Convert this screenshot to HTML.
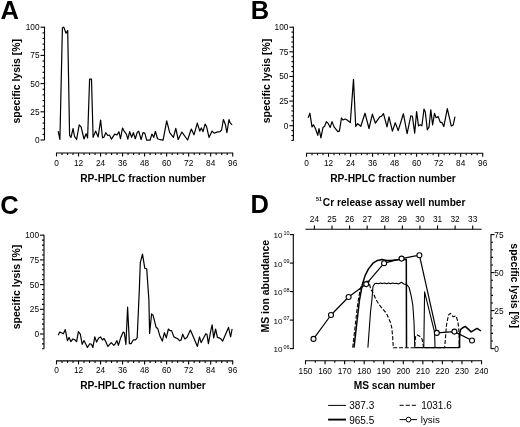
<!DOCTYPE html>
<html><head><meta charset="utf-8"><style>
html,body{margin:0;padding:0;background:#fff;}
svg{display:block;filter:blur(0.25px);}
text{font-family:"Liberation Sans", sans-serif;fill:#000;}
line{stroke:#000;}
</style></head><body>
<svg width="520" height="427" viewBox="0 0 520 427">
<rect width="520" height="427" fill="#fff"/>
<text x="0.60" y="19.00" font-size="25.5" text-anchor="start" font-weight="bold" >A</text>
<text x="250.80" y="19.20" font-size="25.5" text-anchor="start" font-weight="bold" >B</text>
<text x="0.20" y="213.80" font-size="25.5" text-anchor="start" font-weight="bold" >C</text>
<text x="250.50" y="212.80" font-size="25.5" text-anchor="start" font-weight="bold" >D</text>
<line x1="44.50" y1="26.70" x2="44.50" y2="140.00" stroke-width="1.1" />
<line x1="40.50" y1="140.00" x2="44.50" y2="140.00" stroke-width="1.1" />
<text x="39.50" y="143.00" font-size="8.3" text-anchor="end" font-weight="normal" >0</text>
<line x1="42.50" y1="134.36" x2="44.50" y2="134.36" stroke-width="1.1" />
<line x1="42.50" y1="128.72" x2="44.50" y2="128.72" stroke-width="1.1" />
<line x1="42.50" y1="123.08" x2="44.50" y2="123.08" stroke-width="1.1" />
<line x1="42.50" y1="117.44" x2="44.50" y2="117.44" stroke-width="1.1" />
<line x1="40.50" y1="111.80" x2="44.50" y2="111.80" stroke-width="1.1" />
<text x="39.50" y="114.80" font-size="8.3" text-anchor="end" font-weight="normal" >25</text>
<line x1="42.50" y1="106.16" x2="44.50" y2="106.16" stroke-width="1.1" />
<line x1="42.50" y1="100.52" x2="44.50" y2="100.52" stroke-width="1.1" />
<line x1="42.50" y1="94.88" x2="44.50" y2="94.88" stroke-width="1.1" />
<line x1="42.50" y1="89.24" x2="44.50" y2="89.24" stroke-width="1.1" />
<line x1="40.50" y1="83.60" x2="44.50" y2="83.60" stroke-width="1.1" />
<text x="39.50" y="86.60" font-size="8.3" text-anchor="end" font-weight="normal" >50</text>
<line x1="42.50" y1="77.96" x2="44.50" y2="77.96" stroke-width="1.1" />
<line x1="42.50" y1="72.32" x2="44.50" y2="72.32" stroke-width="1.1" />
<line x1="42.50" y1="66.68" x2="44.50" y2="66.68" stroke-width="1.1" />
<line x1="42.50" y1="61.04" x2="44.50" y2="61.04" stroke-width="1.1" />
<line x1="40.50" y1="55.40" x2="44.50" y2="55.40" stroke-width="1.1" />
<text x="39.50" y="58.40" font-size="8.3" text-anchor="end" font-weight="normal" >75</text>
<line x1="42.50" y1="49.76" x2="44.50" y2="49.76" stroke-width="1.1" />
<line x1="42.50" y1="44.12" x2="44.50" y2="44.12" stroke-width="1.1" />
<line x1="42.50" y1="38.48" x2="44.50" y2="38.48" stroke-width="1.1" />
<line x1="42.50" y1="32.84" x2="44.50" y2="32.84" stroke-width="1.1" />
<line x1="40.50" y1="27.20" x2="44.50" y2="27.20" stroke-width="1.1" />
<text x="39.50" y="30.20" font-size="8.3" text-anchor="end" font-weight="normal" >100</text>
<line x1="56.00" y1="153.00" x2="233.20" y2="153.00" stroke-width="1.1" />
<line x1="56.50" y1="153.00" x2="56.50" y2="156.50" stroke-width="1.1" />
<text x="56.50" y="165.50" font-size="8.3" text-anchor="middle" font-weight="normal" >0</text>
<line x1="62.01" y1="153.00" x2="62.01" y2="155.00" stroke-width="1.1" />
<line x1="67.51" y1="153.00" x2="67.51" y2="155.00" stroke-width="1.1" />
<line x1="73.02" y1="153.00" x2="73.02" y2="155.00" stroke-width="1.1" />
<line x1="78.52" y1="153.00" x2="78.52" y2="156.50" stroke-width="1.1" />
<text x="78.52" y="165.50" font-size="8.3" text-anchor="middle" font-weight="normal" >12</text>
<line x1="84.03" y1="153.00" x2="84.03" y2="155.00" stroke-width="1.1" />
<line x1="89.54" y1="153.00" x2="89.54" y2="155.00" stroke-width="1.1" />
<line x1="95.04" y1="153.00" x2="95.04" y2="155.00" stroke-width="1.1" />
<line x1="100.55" y1="153.00" x2="100.55" y2="156.50" stroke-width="1.1" />
<text x="100.55" y="165.50" font-size="8.3" text-anchor="middle" font-weight="normal" >24</text>
<line x1="106.06" y1="153.00" x2="106.06" y2="155.00" stroke-width="1.1" />
<line x1="111.56" y1="153.00" x2="111.56" y2="155.00" stroke-width="1.1" />
<line x1="117.07" y1="153.00" x2="117.07" y2="155.00" stroke-width="1.1" />
<line x1="122.57" y1="153.00" x2="122.57" y2="156.50" stroke-width="1.1" />
<text x="122.57" y="165.50" font-size="8.3" text-anchor="middle" font-weight="normal" >36</text>
<line x1="128.08" y1="153.00" x2="128.08" y2="155.00" stroke-width="1.1" />
<line x1="133.59" y1="153.00" x2="133.59" y2="155.00" stroke-width="1.1" />
<line x1="139.09" y1="153.00" x2="139.09" y2="155.00" stroke-width="1.1" />
<line x1="144.60" y1="153.00" x2="144.60" y2="156.50" stroke-width="1.1" />
<text x="144.60" y="165.50" font-size="8.3" text-anchor="middle" font-weight="normal" >48</text>
<line x1="150.11" y1="153.00" x2="150.11" y2="155.00" stroke-width="1.1" />
<line x1="155.61" y1="153.00" x2="155.61" y2="155.00" stroke-width="1.1" />
<line x1="161.12" y1="153.00" x2="161.12" y2="155.00" stroke-width="1.1" />
<line x1="166.62" y1="153.00" x2="166.62" y2="156.50" stroke-width="1.1" />
<text x="166.62" y="165.50" font-size="8.3" text-anchor="middle" font-weight="normal" >60</text>
<line x1="172.13" y1="153.00" x2="172.13" y2="155.00" stroke-width="1.1" />
<line x1="177.64" y1="153.00" x2="177.64" y2="155.00" stroke-width="1.1" />
<line x1="183.14" y1="153.00" x2="183.14" y2="155.00" stroke-width="1.1" />
<line x1="188.65" y1="153.00" x2="188.65" y2="156.50" stroke-width="1.1" />
<text x="188.65" y="165.50" font-size="8.3" text-anchor="middle" font-weight="normal" >72</text>
<line x1="194.16" y1="153.00" x2="194.16" y2="155.00" stroke-width="1.1" />
<line x1="199.66" y1="153.00" x2="199.66" y2="155.00" stroke-width="1.1" />
<line x1="205.17" y1="153.00" x2="205.17" y2="155.00" stroke-width="1.1" />
<line x1="210.67" y1="153.00" x2="210.67" y2="156.50" stroke-width="1.1" />
<text x="210.67" y="165.50" font-size="8.3" text-anchor="middle" font-weight="normal" >84</text>
<line x1="216.18" y1="153.00" x2="216.18" y2="155.00" stroke-width="1.1" />
<line x1="221.69" y1="153.00" x2="221.69" y2="155.00" stroke-width="1.1" />
<line x1="227.19" y1="153.00" x2="227.19" y2="155.00" stroke-width="1.1" />
<line x1="232.70" y1="153.00" x2="232.70" y2="156.50" stroke-width="1.1" />
<text x="232.70" y="165.50" font-size="8.3" text-anchor="middle" font-weight="normal" >96</text>
<text x="143.00" y="181.50" font-size="10.2" text-anchor="middle" font-weight="bold" >RP-HPLC fraction number</text>
<text x="0" y="0" font-size="10.5" font-weight="bold" text-anchor="middle" transform="translate(20.0,81.3) rotate(-90)">specific lysis [%]</text>
<line x1="293.40" y1="26.70" x2="293.40" y2="140.47" stroke-width="1.1" />
<line x1="291.40" y1="140.47" x2="293.40" y2="140.47" stroke-width="1.1" />
<line x1="291.40" y1="135.55" x2="293.40" y2="135.55" stroke-width="1.1" />
<line x1="291.40" y1="130.62" x2="293.40" y2="130.62" stroke-width="1.1" />
<line x1="289.40" y1="125.70" x2="293.40" y2="125.70" stroke-width="1.1" />
<text x="288.40" y="128.70" font-size="8.3" text-anchor="end" font-weight="normal" >0</text>
<line x1="291.40" y1="120.78" x2="293.40" y2="120.78" stroke-width="1.1" />
<line x1="291.40" y1="115.85" x2="293.40" y2="115.85" stroke-width="1.1" />
<line x1="291.40" y1="110.92" x2="293.40" y2="110.92" stroke-width="1.1" />
<line x1="291.40" y1="106.00" x2="293.40" y2="106.00" stroke-width="1.1" />
<line x1="289.40" y1="101.08" x2="293.40" y2="101.08" stroke-width="1.1" />
<text x="288.40" y="104.08" font-size="8.3" text-anchor="end" font-weight="normal" >25</text>
<line x1="291.40" y1="96.15" x2="293.40" y2="96.15" stroke-width="1.1" />
<line x1="291.40" y1="91.22" x2="293.40" y2="91.22" stroke-width="1.1" />
<line x1="291.40" y1="86.30" x2="293.40" y2="86.30" stroke-width="1.1" />
<line x1="291.40" y1="81.38" x2="293.40" y2="81.38" stroke-width="1.1" />
<line x1="289.40" y1="76.45" x2="293.40" y2="76.45" stroke-width="1.1" />
<text x="288.40" y="79.45" font-size="8.3" text-anchor="end" font-weight="normal" >50</text>
<line x1="291.40" y1="71.53" x2="293.40" y2="71.53" stroke-width="1.1" />
<line x1="291.40" y1="66.60" x2="293.40" y2="66.60" stroke-width="1.1" />
<line x1="291.40" y1="61.67" x2="293.40" y2="61.67" stroke-width="1.1" />
<line x1="291.40" y1="56.75" x2="293.40" y2="56.75" stroke-width="1.1" />
<line x1="289.40" y1="51.83" x2="293.40" y2="51.83" stroke-width="1.1" />
<text x="288.40" y="54.83" font-size="8.3" text-anchor="end" font-weight="normal" >75</text>
<line x1="291.40" y1="46.90" x2="293.40" y2="46.90" stroke-width="1.1" />
<line x1="291.40" y1="41.98" x2="293.40" y2="41.98" stroke-width="1.1" />
<line x1="291.40" y1="37.05" x2="293.40" y2="37.05" stroke-width="1.1" />
<line x1="291.40" y1="32.12" x2="293.40" y2="32.12" stroke-width="1.1" />
<line x1="289.40" y1="27.20" x2="293.40" y2="27.20" stroke-width="1.1" />
<text x="288.40" y="30.20" font-size="8.3" text-anchor="end" font-weight="normal" >100</text>
<line x1="306.00" y1="153.30" x2="483.20" y2="153.30" stroke-width="1.1" />
<line x1="306.50" y1="153.30" x2="306.50" y2="156.80" stroke-width="1.1" />
<text x="306.50" y="165.80" font-size="8.3" text-anchor="middle" font-weight="normal" >0</text>
<line x1="312.01" y1="153.30" x2="312.01" y2="155.30" stroke-width="1.1" />
<line x1="317.51" y1="153.30" x2="317.51" y2="155.30" stroke-width="1.1" />
<line x1="323.02" y1="153.30" x2="323.02" y2="155.30" stroke-width="1.1" />
<line x1="328.52" y1="153.30" x2="328.52" y2="156.80" stroke-width="1.1" />
<text x="328.52" y="165.80" font-size="8.3" text-anchor="middle" font-weight="normal" >12</text>
<line x1="334.03" y1="153.30" x2="334.03" y2="155.30" stroke-width="1.1" />
<line x1="339.54" y1="153.30" x2="339.54" y2="155.30" stroke-width="1.1" />
<line x1="345.04" y1="153.30" x2="345.04" y2="155.30" stroke-width="1.1" />
<line x1="350.55" y1="153.30" x2="350.55" y2="156.80" stroke-width="1.1" />
<text x="350.55" y="165.80" font-size="8.3" text-anchor="middle" font-weight="normal" >24</text>
<line x1="356.06" y1="153.30" x2="356.06" y2="155.30" stroke-width="1.1" />
<line x1="361.56" y1="153.30" x2="361.56" y2="155.30" stroke-width="1.1" />
<line x1="367.07" y1="153.30" x2="367.07" y2="155.30" stroke-width="1.1" />
<line x1="372.57" y1="153.30" x2="372.57" y2="156.80" stroke-width="1.1" />
<text x="372.57" y="165.80" font-size="8.3" text-anchor="middle" font-weight="normal" >36</text>
<line x1="378.08" y1="153.30" x2="378.08" y2="155.30" stroke-width="1.1" />
<line x1="383.59" y1="153.30" x2="383.59" y2="155.30" stroke-width="1.1" />
<line x1="389.09" y1="153.30" x2="389.09" y2="155.30" stroke-width="1.1" />
<line x1="394.60" y1="153.30" x2="394.60" y2="156.80" stroke-width="1.1" />
<text x="394.60" y="165.80" font-size="8.3" text-anchor="middle" font-weight="normal" >48</text>
<line x1="400.11" y1="153.30" x2="400.11" y2="155.30" stroke-width="1.1" />
<line x1="405.61" y1="153.30" x2="405.61" y2="155.30" stroke-width="1.1" />
<line x1="411.12" y1="153.30" x2="411.12" y2="155.30" stroke-width="1.1" />
<line x1="416.62" y1="153.30" x2="416.62" y2="156.80" stroke-width="1.1" />
<text x="416.62" y="165.80" font-size="8.3" text-anchor="middle" font-weight="normal" >60</text>
<line x1="422.13" y1="153.30" x2="422.13" y2="155.30" stroke-width="1.1" />
<line x1="427.64" y1="153.30" x2="427.64" y2="155.30" stroke-width="1.1" />
<line x1="433.14" y1="153.30" x2="433.14" y2="155.30" stroke-width="1.1" />
<line x1="438.65" y1="153.30" x2="438.65" y2="156.80" stroke-width="1.1" />
<text x="438.65" y="165.80" font-size="8.3" text-anchor="middle" font-weight="normal" >72</text>
<line x1="444.15" y1="153.30" x2="444.15" y2="155.30" stroke-width="1.1" />
<line x1="449.66" y1="153.30" x2="449.66" y2="155.30" stroke-width="1.1" />
<line x1="455.17" y1="153.30" x2="455.17" y2="155.30" stroke-width="1.1" />
<line x1="460.67" y1="153.30" x2="460.67" y2="156.80" stroke-width="1.1" />
<text x="460.67" y="165.80" font-size="8.3" text-anchor="middle" font-weight="normal" >84</text>
<line x1="466.18" y1="153.30" x2="466.18" y2="155.30" stroke-width="1.1" />
<line x1="471.69" y1="153.30" x2="471.69" y2="155.30" stroke-width="1.1" />
<line x1="477.19" y1="153.30" x2="477.19" y2="155.30" stroke-width="1.1" />
<line x1="482.70" y1="153.30" x2="482.70" y2="156.80" stroke-width="1.1" />
<text x="482.70" y="165.80" font-size="8.3" text-anchor="middle" font-weight="normal" >96</text>
<text x="393.00" y="181.80" font-size="10.2" text-anchor="middle" font-weight="bold" >RP-HPLC fraction number</text>
<text x="0" y="0" font-size="10.5" font-weight="bold" text-anchor="middle" transform="translate(269.6,81.0) rotate(-90)">specific lysis [%]</text>
<line x1="44.00" y1="234.70" x2="44.00" y2="348.82" stroke-width="1.1" />
<line x1="42.00" y1="348.82" x2="44.00" y2="348.82" stroke-width="1.1" />
<line x1="42.00" y1="343.88" x2="44.00" y2="343.88" stroke-width="1.1" />
<line x1="42.00" y1="338.94" x2="44.00" y2="338.94" stroke-width="1.1" />
<line x1="40.00" y1="334.00" x2="44.00" y2="334.00" stroke-width="1.1" />
<text x="39.00" y="337.00" font-size="8.3" text-anchor="end" font-weight="normal" >0</text>
<line x1="42.00" y1="329.06" x2="44.00" y2="329.06" stroke-width="1.1" />
<line x1="42.00" y1="324.12" x2="44.00" y2="324.12" stroke-width="1.1" />
<line x1="42.00" y1="319.18" x2="44.00" y2="319.18" stroke-width="1.1" />
<line x1="42.00" y1="314.24" x2="44.00" y2="314.24" stroke-width="1.1" />
<line x1="40.00" y1="309.30" x2="44.00" y2="309.30" stroke-width="1.1" />
<text x="39.00" y="312.30" font-size="8.3" text-anchor="end" font-weight="normal" >25</text>
<line x1="42.00" y1="304.36" x2="44.00" y2="304.36" stroke-width="1.1" />
<line x1="42.00" y1="299.42" x2="44.00" y2="299.42" stroke-width="1.1" />
<line x1="42.00" y1="294.48" x2="44.00" y2="294.48" stroke-width="1.1" />
<line x1="42.00" y1="289.54" x2="44.00" y2="289.54" stroke-width="1.1" />
<line x1="40.00" y1="284.60" x2="44.00" y2="284.60" stroke-width="1.1" />
<text x="39.00" y="287.60" font-size="8.3" text-anchor="end" font-weight="normal" >50</text>
<line x1="42.00" y1="279.66" x2="44.00" y2="279.66" stroke-width="1.1" />
<line x1="42.00" y1="274.72" x2="44.00" y2="274.72" stroke-width="1.1" />
<line x1="42.00" y1="269.78" x2="44.00" y2="269.78" stroke-width="1.1" />
<line x1="42.00" y1="264.84" x2="44.00" y2="264.84" stroke-width="1.1" />
<line x1="40.00" y1="259.90" x2="44.00" y2="259.90" stroke-width="1.1" />
<text x="39.00" y="262.90" font-size="8.3" text-anchor="end" font-weight="normal" >75</text>
<line x1="42.00" y1="254.96" x2="44.00" y2="254.96" stroke-width="1.1" />
<line x1="42.00" y1="250.02" x2="44.00" y2="250.02" stroke-width="1.1" />
<line x1="42.00" y1="245.08" x2="44.00" y2="245.08" stroke-width="1.1" />
<line x1="42.00" y1="240.14" x2="44.00" y2="240.14" stroke-width="1.1" />
<line x1="40.00" y1="235.20" x2="44.00" y2="235.20" stroke-width="1.1" />
<text x="39.00" y="238.20" font-size="8.3" text-anchor="end" font-weight="normal" >100</text>
<line x1="56.00" y1="360.90" x2="233.20" y2="360.90" stroke-width="1.1" />
<line x1="56.50" y1="360.90" x2="56.50" y2="364.40" stroke-width="1.1" />
<text x="56.50" y="373.40" font-size="8.3" text-anchor="middle" font-weight="normal" >0</text>
<line x1="62.01" y1="360.90" x2="62.01" y2="362.90" stroke-width="1.1" />
<line x1="67.51" y1="360.90" x2="67.51" y2="362.90" stroke-width="1.1" />
<line x1="73.02" y1="360.90" x2="73.02" y2="362.90" stroke-width="1.1" />
<line x1="78.52" y1="360.90" x2="78.52" y2="364.40" stroke-width="1.1" />
<text x="78.52" y="373.40" font-size="8.3" text-anchor="middle" font-weight="normal" >12</text>
<line x1="84.03" y1="360.90" x2="84.03" y2="362.90" stroke-width="1.1" />
<line x1="89.54" y1="360.90" x2="89.54" y2="362.90" stroke-width="1.1" />
<line x1="95.04" y1="360.90" x2="95.04" y2="362.90" stroke-width="1.1" />
<line x1="100.55" y1="360.90" x2="100.55" y2="364.40" stroke-width="1.1" />
<text x="100.55" y="373.40" font-size="8.3" text-anchor="middle" font-weight="normal" >24</text>
<line x1="106.06" y1="360.90" x2="106.06" y2="362.90" stroke-width="1.1" />
<line x1="111.56" y1="360.90" x2="111.56" y2="362.90" stroke-width="1.1" />
<line x1="117.07" y1="360.90" x2="117.07" y2="362.90" stroke-width="1.1" />
<line x1="122.57" y1="360.90" x2="122.57" y2="364.40" stroke-width="1.1" />
<text x="122.57" y="373.40" font-size="8.3" text-anchor="middle" font-weight="normal" >36</text>
<line x1="128.08" y1="360.90" x2="128.08" y2="362.90" stroke-width="1.1" />
<line x1="133.59" y1="360.90" x2="133.59" y2="362.90" stroke-width="1.1" />
<line x1="139.09" y1="360.90" x2="139.09" y2="362.90" stroke-width="1.1" />
<line x1="144.60" y1="360.90" x2="144.60" y2="364.40" stroke-width="1.1" />
<text x="144.60" y="373.40" font-size="8.3" text-anchor="middle" font-weight="normal" >48</text>
<line x1="150.11" y1="360.90" x2="150.11" y2="362.90" stroke-width="1.1" />
<line x1="155.61" y1="360.90" x2="155.61" y2="362.90" stroke-width="1.1" />
<line x1="161.12" y1="360.90" x2="161.12" y2="362.90" stroke-width="1.1" />
<line x1="166.62" y1="360.90" x2="166.62" y2="364.40" stroke-width="1.1" />
<text x="166.62" y="373.40" font-size="8.3" text-anchor="middle" font-weight="normal" >60</text>
<line x1="172.13" y1="360.90" x2="172.13" y2="362.90" stroke-width="1.1" />
<line x1="177.64" y1="360.90" x2="177.64" y2="362.90" stroke-width="1.1" />
<line x1="183.14" y1="360.90" x2="183.14" y2="362.90" stroke-width="1.1" />
<line x1="188.65" y1="360.90" x2="188.65" y2="364.40" stroke-width="1.1" />
<text x="188.65" y="373.40" font-size="8.3" text-anchor="middle" font-weight="normal" >72</text>
<line x1="194.16" y1="360.90" x2="194.16" y2="362.90" stroke-width="1.1" />
<line x1="199.66" y1="360.90" x2="199.66" y2="362.90" stroke-width="1.1" />
<line x1="205.17" y1="360.90" x2="205.17" y2="362.90" stroke-width="1.1" />
<line x1="210.67" y1="360.90" x2="210.67" y2="364.40" stroke-width="1.1" />
<text x="210.67" y="373.40" font-size="8.3" text-anchor="middle" font-weight="normal" >84</text>
<line x1="216.18" y1="360.90" x2="216.18" y2="362.90" stroke-width="1.1" />
<line x1="221.69" y1="360.90" x2="221.69" y2="362.90" stroke-width="1.1" />
<line x1="227.19" y1="360.90" x2="227.19" y2="362.90" stroke-width="1.1" />
<line x1="232.70" y1="360.90" x2="232.70" y2="364.40" stroke-width="1.1" />
<text x="232.70" y="373.40" font-size="8.3" text-anchor="middle" font-weight="normal" >96</text>
<text x="143.00" y="389.40" font-size="10.2" text-anchor="middle" font-weight="bold" >RP-HPLC fraction number</text>
<text x="0" y="0" font-size="10.5" font-weight="bold" text-anchor="middle" transform="translate(20.0,287.0) rotate(-90)">specific lysis [%]</text>
<polyline points="58.20,131.10 59.90,139.50 62.40,28.00 63.80,27.10 66.00,33.20 67.70,30.60 69.60,135.30 71.00,137.40 73.10,128.50 74.50,136.40 76.60,139.50 79.20,124.80 81.10,126.90 84.00,139.00 86.10,133.70 87.60,137.90 89.60,79.20 91.50,79.20 93.10,137.40 95.60,131.10 98.20,136.90 100.60,120.00 102.50,137.80 103.90,137.30 105.80,132.70 107.70,135.50 109.50,135.00 111.40,139.20 114.70,134.10 117.00,135.00 118.90,131.70 120.50,138.75 122.50,128.00 124.50,131.70 126.40,134.10 127.80,139.20 129.70,131.70 131.60,137.30 133.40,132.70 135.30,138.75 137.30,132.20 138.75,131.25 141.10,139.70 143.00,132.70 144.80,133.10 146.70,140.20 150.00,140.20 151.90,134.10 153.75,137.30 155.40,131.25 157.50,138.75 160.30,139.70 163.10,140.20 166.70,120.90 169.70,132.70 173.40,137.30 175.80,128.40 178.20,139.50 181.90,132.10 187.60,140.00 191.30,129.00 194.00,134.80 197.30,123.20 199.80,131.10 201.30,127.90 203.00,131.60 205.10,124.20 206.50,126.30 209.00,137.40 212.10,131.10 214.20,133.20 216.90,132.10 220.00,131.60 221.60,130.00 223.40,119.50 225.30,124.20 226.90,132.70 229.00,119.50 230.00,122.70 232.10,124.80" fill="none" stroke="#000" stroke-width="1.2" stroke-linejoin="round" />
<polyline points="308.10,117.90 309.90,113.20 312.00,126.90 313.50,124.80 315.60,129.00 317.80,135.30 319.00,128.50 320.90,137.90 323.00,127.40 324.60,126.30 326.40,121.60 328.30,123.70 330.20,127.40 332.00,121.60 334.10,126.90 337.80,131.60 339.40,131.10 341.50,117.90 343.00,120.00 345.20,119.00 347.10,120.00 350.30,122.60 353.50,79.30 355.70,126.30 357.60,123.70 360.80,126.30 365.00,113.20 369.00,128.50 372.40,114.20 375.40,123.20 379.80,116.90 381.40,116.30 383.50,113.70 387.00,126.90 389.00,116.90 392.40,131.10 395.30,122.70 398.20,130.60 403.40,113.70 407.10,133.70 410.80,115.80 412.40,116.30 414.70,133.20 416.60,111.60 418.50,125.80 420.30,124.80 421.90,125.80 424.00,109.00 425.30,112.00 427.30,129.80 429.00,127.10 430.80,109.80 432.60,125.00 434.50,113.40 436.10,117.70 438.20,116.60 440.30,122.40 441.90,122.40 443.80,126.60 447.30,108.70 451.30,126.10 453.20,125.00 455.00,116.60" fill="none" stroke="#000" stroke-width="1.2" stroke-linejoin="round" />
<polyline points="58.20,335.30 59.70,332.10 61.50,332.70 63.40,333.70 65.30,329.50 67.40,340.60 69.20,337.40 70.80,341.60 72.90,339.00 74.50,339.50 76.60,341.60 78.40,331.60 80.30,334.20 82.20,344.30 84.00,340.60 87.50,347.40 89.80,343.70 91.40,344.30 92.90,347.40 94.80,336.90 96.60,342.10 98.70,337.90 100.50,336.90 102.40,340.00 104.00,338.50 105.50,341.10 107.90,346.40 111.30,342.70 113.80,345.30 115.00,344.30 116.90,340.60 118.40,345.30 120.80,337.40 123.20,332.10 124.30,332.70 125.90,344.30 127.60,307.20 129.40,343.60 131.10,343.60 133.40,339.80 135.60,339.80 137.20,337.50 139.30,290.00 140.30,262.70 142.50,254.20 144.80,268.30 146.70,268.75 148.90,300.00 149.60,333.40 151.60,313.90 153.10,315.40 156.20,327.60 157.70,328.30 160.00,336.30 162.30,341.10 164.40,332.70 166.30,337.90 168.40,329.00 170.00,330.60 171.60,330.60 173.90,336.90 175.80,337.90 177.40,338.50 179.50,340.60 181.10,340.00 182.70,334.20 184.80,339.00 186.90,337.40 190.40,330.00 197.40,346.40 199.50,336.90 201.10,342.70 205.80,333.70 206.90,334.20 208.40,343.70 210.50,332.10 212.10,324.80 213.70,337.90 215.60,329.00 217.40,337.40 219.00,337.90 220.50,338.50 222.70,341.10 228.50,327.40 230.60,336.90 232.10,329.00" fill="none" stroke="#000" stroke-width="1.2" stroke-linejoin="round" />
<line x1="293.30" y1="234.10" x2="293.30" y2="349.10" stroke-width="1.1" />
<line x1="289.80" y1="234.60" x2="293.30" y2="234.60" stroke-width="1.1" />
<text x="282.50" y="238.00" font-size="8.1" text-anchor="end" font-weight="normal" >10</text>
<text x="283.40" y="234.90" font-size="5.4" text-anchor="start" font-weight="normal" >10</text>
<line x1="289.80" y1="263.10" x2="293.30" y2="263.10" stroke-width="1.1" />
<text x="282.50" y="266.50" font-size="8.1" text-anchor="end" font-weight="normal" >10</text>
<text x="283.40" y="263.40" font-size="5.4" text-anchor="start" font-weight="normal" >09</text>
<line x1="289.80" y1="291.60" x2="293.30" y2="291.60" stroke-width="1.1" />
<text x="282.50" y="295.00" font-size="8.1" text-anchor="end" font-weight="normal" >10</text>
<text x="283.40" y="291.90" font-size="5.4" text-anchor="start" font-weight="normal" >08</text>
<line x1="289.80" y1="320.10" x2="293.30" y2="320.10" stroke-width="1.1" />
<text x="282.50" y="323.50" font-size="8.1" text-anchor="end" font-weight="normal" >10</text>
<text x="283.40" y="320.40" font-size="5.4" text-anchor="start" font-weight="normal" >07</text>
<line x1="289.80" y1="348.60" x2="293.30" y2="348.60" stroke-width="1.1" />
<text x="282.50" y="352.00" font-size="8.1" text-anchor="end" font-weight="normal" >10</text>
<text x="283.40" y="348.90" font-size="5.4" text-anchor="start" font-weight="normal" >06</text>
<line x1="491.00" y1="234.10" x2="491.00" y2="349.10" stroke-width="1.1" />
<line x1="491.00" y1="348.60" x2="494.50" y2="348.60" stroke-width="1.1" />
<text x="494.30" y="351.60" font-size="8.3" text-anchor="start" font-weight="normal" >0</text>
<line x1="491.00" y1="341.00" x2="493.00" y2="341.00" stroke-width="1.1" />
<line x1="491.00" y1="333.40" x2="493.00" y2="333.40" stroke-width="1.1" />
<line x1="491.00" y1="325.80" x2="493.00" y2="325.80" stroke-width="1.1" />
<line x1="491.00" y1="318.20" x2="493.00" y2="318.20" stroke-width="1.1" />
<line x1="491.00" y1="310.60" x2="494.50" y2="310.60" stroke-width="1.1" />
<text x="494.30" y="313.60" font-size="8.3" text-anchor="start" font-weight="normal" >25</text>
<line x1="491.00" y1="303.00" x2="493.00" y2="303.00" stroke-width="1.1" />
<line x1="491.00" y1="295.40" x2="493.00" y2="295.40" stroke-width="1.1" />
<line x1="491.00" y1="287.80" x2="493.00" y2="287.80" stroke-width="1.1" />
<line x1="491.00" y1="280.20" x2="493.00" y2="280.20" stroke-width="1.1" />
<line x1="491.00" y1="272.60" x2="494.50" y2="272.60" stroke-width="1.1" />
<text x="494.30" y="275.60" font-size="8.3" text-anchor="start" font-weight="normal" >50</text>
<line x1="491.00" y1="265.00" x2="493.00" y2="265.00" stroke-width="1.1" />
<line x1="491.00" y1="257.40" x2="493.00" y2="257.40" stroke-width="1.1" />
<line x1="491.00" y1="249.80" x2="493.00" y2="249.80" stroke-width="1.1" />
<line x1="491.00" y1="242.20" x2="493.00" y2="242.20" stroke-width="1.1" />
<line x1="491.00" y1="234.60" x2="494.50" y2="234.60" stroke-width="1.1" />
<text x="494.30" y="237.60" font-size="8.3" text-anchor="start" font-weight="normal" >75</text>
<text x="0" y="0" font-size="10.5" font-weight="bold" text-anchor="middle" transform="translate(510.5,285.6) rotate(90)">specific lysis [%]</text>
<text x="0" y="0" font-size="10.5" font-weight="bold" text-anchor="middle" transform="translate(269.4,286.2) rotate(-90)">MS ion abundance</text>
<line x1="305.00" y1="360.80" x2="482.04" y2="360.80" stroke-width="1.1" />
<line x1="305.50" y1="360.80" x2="305.50" y2="364.30" stroke-width="1.1" />
<text x="305.50" y="373.60" font-size="8.3" text-anchor="middle" font-weight="normal" >150</text>
<line x1="315.28" y1="360.80" x2="315.28" y2="362.80" stroke-width="1.1" />
<line x1="325.06" y1="360.80" x2="325.06" y2="364.30" stroke-width="1.1" />
<text x="325.06" y="373.60" font-size="8.3" text-anchor="middle" font-weight="normal" >160</text>
<line x1="334.84" y1="360.80" x2="334.84" y2="362.80" stroke-width="1.1" />
<line x1="344.62" y1="360.80" x2="344.62" y2="364.30" stroke-width="1.1" />
<text x="344.62" y="373.60" font-size="8.3" text-anchor="middle" font-weight="normal" >170</text>
<line x1="354.40" y1="360.80" x2="354.40" y2="362.80" stroke-width="1.1" />
<line x1="364.18" y1="360.80" x2="364.18" y2="364.30" stroke-width="1.1" />
<text x="364.18" y="373.60" font-size="8.3" text-anchor="middle" font-weight="normal" >180</text>
<line x1="373.96" y1="360.80" x2="373.96" y2="362.80" stroke-width="1.1" />
<line x1="383.74" y1="360.80" x2="383.74" y2="364.30" stroke-width="1.1" />
<text x="383.74" y="373.60" font-size="8.3" text-anchor="middle" font-weight="normal" >190</text>
<line x1="393.52" y1="360.80" x2="393.52" y2="362.80" stroke-width="1.1" />
<line x1="403.30" y1="360.80" x2="403.30" y2="364.30" stroke-width="1.1" />
<text x="403.30" y="373.60" font-size="8.3" text-anchor="middle" font-weight="normal" >200</text>
<line x1="413.08" y1="360.80" x2="413.08" y2="362.80" stroke-width="1.1" />
<line x1="422.86" y1="360.80" x2="422.86" y2="364.30" stroke-width="1.1" />
<text x="422.86" y="373.60" font-size="8.3" text-anchor="middle" font-weight="normal" >210</text>
<line x1="432.64" y1="360.80" x2="432.64" y2="362.80" stroke-width="1.1" />
<line x1="442.42" y1="360.80" x2="442.42" y2="364.30" stroke-width="1.1" />
<text x="442.42" y="373.60" font-size="8.3" text-anchor="middle" font-weight="normal" >220</text>
<line x1="452.20" y1="360.80" x2="452.20" y2="362.80" stroke-width="1.1" />
<line x1="461.98" y1="360.80" x2="461.98" y2="364.30" stroke-width="1.1" />
<text x="461.98" y="373.60" font-size="8.3" text-anchor="middle" font-weight="normal" >230</text>
<line x1="471.76" y1="360.80" x2="471.76" y2="362.80" stroke-width="1.1" />
<line x1="481.54" y1="360.80" x2="481.54" y2="364.30" stroke-width="1.1" />
<text x="481.54" y="373.60" font-size="8.3" text-anchor="middle" font-weight="normal" >240</text>
<text x="394.50" y="389.20" font-size="10.2" text-anchor="middle" font-weight="bold" >MS scan number</text>
<line x1="305.40" y1="229.20" x2="481.70" y2="229.20" stroke-width="1.1" />
<line x1="314.40" y1="229.20" x2="314.40" y2="225.40" stroke-width="1.1" />
<text x="314.40" y="222.40" font-size="8.3" text-anchor="middle" font-weight="normal" >24</text>
<line x1="331.99" y1="229.20" x2="331.99" y2="225.40" stroke-width="1.1" />
<text x="331.99" y="222.40" font-size="8.3" text-anchor="middle" font-weight="normal" >25</text>
<line x1="349.58" y1="229.20" x2="349.58" y2="225.40" stroke-width="1.1" />
<text x="349.58" y="222.40" font-size="8.3" text-anchor="middle" font-weight="normal" >26</text>
<line x1="367.17" y1="229.20" x2="367.17" y2="225.40" stroke-width="1.1" />
<text x="367.17" y="222.40" font-size="8.3" text-anchor="middle" font-weight="normal" >27</text>
<line x1="384.76" y1="229.20" x2="384.76" y2="225.40" stroke-width="1.1" />
<text x="384.76" y="222.40" font-size="8.3" text-anchor="middle" font-weight="normal" >28</text>
<line x1="402.35" y1="229.20" x2="402.35" y2="225.40" stroke-width="1.1" />
<text x="402.35" y="222.40" font-size="8.3" text-anchor="middle" font-weight="normal" >29</text>
<line x1="419.94" y1="229.20" x2="419.94" y2="225.40" stroke-width="1.1" />
<text x="419.94" y="222.40" font-size="8.3" text-anchor="middle" font-weight="normal" >30</text>
<line x1="437.53" y1="229.20" x2="437.53" y2="225.40" stroke-width="1.1" />
<text x="437.53" y="222.40" font-size="8.3" text-anchor="middle" font-weight="normal" >31</text>
<line x1="455.12" y1="229.20" x2="455.12" y2="225.40" stroke-width="1.1" />
<text x="455.12" y="222.40" font-size="8.3" text-anchor="middle" font-weight="normal" >32</text>
<line x1="472.71" y1="229.20" x2="472.71" y2="225.40" stroke-width="1.1" />
<text x="472.71" y="222.40" font-size="8.3" text-anchor="middle" font-weight="normal" >33</text>
<text x="316.0" y="205.5" font-size="10.2" font-weight="bold"><tspan font-size="5.3" dy="-5">51</tspan><tspan dx="0.9" dy="5">Cr release assay well number</tspan></text>
<polyline points="354.00,347.60 355.80,332.00 357.50,317.00 359.50,300.00 362.30,284.60 365.10,275.60 368.50,268.90 373.00,263.20 377.50,260.40 382.00,259.60 386.50,260.60 391.00,260.40 395.00,260.00 400.00,259.60 406.30,259.40 406.50,347.60" fill="none" stroke="#000" stroke-width="1.5" stroke-linejoin="round" />
<polyline points="459.30,347.60 459.80,333.00 460.70,329.30 462.40,328.00 465.20,326.40 468.00,328.90 471.10,331.90 474.10,330.20 477.10,328.40 481.00,331.00" fill="none" stroke="#000" stroke-width="1.5" stroke-linejoin="round" />
<polygon points="458.6,347.8 460.4,347.8 459.9,338" fill="#000"/>
<polyline points="367.90,347.60 369.20,330.00 370.50,312.00 371.90,300.00 373.00,286.50 374.70,283.80 376.50,283.20 378.50,283.80 380.50,283.00 382.50,283.60 384.50,282.90 386.50,283.70 388.50,283.10 390.50,283.80 392.50,283.00 394.50,283.50 396.50,283.30 398.50,284.00 401.40,282.20 403.80,284.00 406.70,284.60 409.10,287.50 411.40,296.90 412.80,305.00 414.00,322.00 414.80,347.60 459.30,347.60" fill="none" stroke="#000" stroke-width="1.1" stroke-linejoin="round" />
<polyline points="423.80,347.60 424.60,291.80 434.60,332.40 435.00,347.60" fill="none" stroke="#000" stroke-width="1.1" stroke-linejoin="round" />
<polyline points="352.70,347.60 354.50,332.00 356.20,317.00 357.20,308.00 358.30,300.00 360.20,289.00 363.40,281.80 366.00,281.40 369.00,281.40 369.80,285.50 370.70,289.00 373.50,293.60 375.80,299.20 379.00,304.50 382.80,309.10 386.50,313.50 388.50,318.00 390.50,322.50 391.80,328.00 392.60,336.00 393.30,347.80 414.50,347.80 415.50,337.00 416.80,334.80 419.70,336.30 422.10,339.20 423.10,345.00 423.50,347.80 444.70,347.80 446.50,325.00 448.50,315.00 450.40,313.30 453.20,316.80 456.00,315.80 458.00,322.00 459.00,332.00 459.40,347.80" fill="none" stroke="#000" stroke-width="1.1" stroke-linejoin="round" stroke-dasharray="4,1.8"/>
<polyline points="313.50,338.90 331.00,315.00 348.60,297.00 366.20,284.10 384.10,263.20 401.60,258.60 419.40,255.20 436.80,332.90 454.40,331.60 472.00,340.50" fill="none" stroke="#000" stroke-width="1.2" stroke-linejoin="round" />
<circle cx="313.5" cy="338.9" r="2.5" fill="#fff" stroke="#000" stroke-width="1.1"/>
<circle cx="331.0" cy="315.0" r="2.5" fill="#fff" stroke="#000" stroke-width="1.1"/>
<circle cx="348.6" cy="297.0" r="2.5" fill="#fff" stroke="#000" stroke-width="1.1"/>
<circle cx="366.2" cy="284.1" r="2.5" fill="#fff" stroke="#000" stroke-width="1.1"/>
<circle cx="384.1" cy="263.2" r="2.5" fill="#fff" stroke="#000" stroke-width="1.1"/>
<circle cx="401.6" cy="258.6" r="2.5" fill="#fff" stroke="#000" stroke-width="1.1"/>
<circle cx="419.4" cy="255.2" r="2.5" fill="#fff" stroke="#000" stroke-width="1.1"/>
<circle cx="436.8" cy="332.9" r="2.5" fill="#fff" stroke="#000" stroke-width="1.1"/>
<circle cx="454.4" cy="331.6" r="2.5" fill="#fff" stroke="#000" stroke-width="1.1"/>
<circle cx="472.0" cy="340.5" r="2.5" fill="#fff" stroke="#000" stroke-width="1.1"/>
<line x1="328.10" y1="405.40" x2="346.00" y2="405.40" stroke-width="1.0" />
<text x="349.20" y="408.80" font-size="10.0" text-anchor="start" font-weight="normal" >387.3</text>
<line x1="328.10" y1="419.60" x2="346.00" y2="419.60" stroke-width="1.9" />
<text x="349.20" y="423.60" font-size="10.0" text-anchor="start" font-weight="normal" >965.5</text>
<line x1="399.60" y1="405.30" x2="416.00" y2="405.30" stroke-width="1.0" stroke-dasharray="4.1,2"/>
<text x="421.20" y="408.60" font-size="10.0" text-anchor="start" font-weight="normal" >1031.6</text>
<line x1="399.60" y1="419.60" x2="416.90" y2="419.60" stroke-width="1.0" />
<circle cx="408.5" cy="419.6" r="2.4" fill="#fff" stroke="#000" stroke-width="1"/>
<text x="420.80" y="423.00" font-size="9.8" text-anchor="start" font-weight="normal" >lysis</text>
</svg>
</body></html>
